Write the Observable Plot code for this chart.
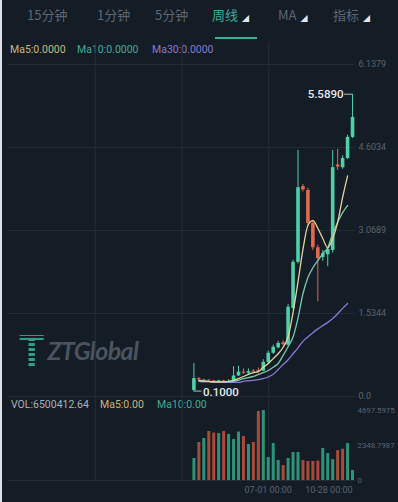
<!DOCTYPE html>
<html><head><meta charset="utf-8">
<script src="https://cdn.jsdelivr.net/npm/d3@7"></script>
<script src="https://cdn.jsdelivr.net/npm/@observablehq/plot@0.6"></script>
<style>
html,body{margin:0;padding:0;background:#141c26;}
#wrap{position:relative;width:398px;height:502px;overflow:hidden;background:#141c26;font-family:Roboto,"Noto Sans CJK SC",sans-serif;}
#wrap::before{content:"";position:absolute;left:0;top:0;width:2px;height:502px;background:#dfe2e5;z-index:9;}
.layer{position:absolute;left:0;}
.tab{position:absolute;top:6px;font-size:13px;line-height:18px;color:#5c6772;font-family:"Noto Sans CJK SC",Roboto,sans-serif;white-space:nowrap;}
.tab.on{color:#3bae96;}
.tri{font-size:7px;color:#e4e7ea;margin-left:4px;vertical-align:-1px;}
.leg{position:absolute;font-size:10.5px;line-height:12px;white-space:nowrap;font-family:Roboto,sans-serif;}
#wm{position:absolute;left:19px;top:333px;height:34px;white-space:nowrap;}
#wm .logo{display:inline-block;font-family:Lato,sans-serif;font-weight:900;font-size:42px;line-height:34px;height:34px;color:transparent;
 background:repeating-linear-gradient(to bottom,#2f9e86 0px,#2f9e86 3px,transparent 3px,transparent 5px);-webkit-background-clip:text;background-clip:text;vertical-align:top;}
#wm .name{display:inline-block;font-family:Lato,sans-serif;font-weight:700;font-style:italic;font-size:25px;line-height:34px;color:#4a535e;letter-spacing:-0.6px;vertical-align:top;margin-left:3px;}
</style></head>
<body><div id="wrap"></div>
<script>
// ---- data ----
const tabLabels = ["15分钟","1分钟","5分钟","周线","MA","指标"];
const priceTicks = [0, 1.5344, 3.0689, 4.6034, 6.1379];
const priceLabels = ["0.0","1.5344","3.0689","4.6034","6.1379"];
const volTicks = [0, 2348.7987, 4697.5975];
const volLabels = ["0","2348.7987","4697.5975"];
const dateTickIdx = [15, 32];
const dateTickLabels = ["07-01 00:00","10-28 00:00"];

const open  = [0.11,0.33,0.29,0.30,0.29,0.27,0.29,0.27,0.28,0.38,0.45,0.43,0.47,0.48,0.47,0.63,0.80,0.90,0.99,0.95,1.63,2.48,3.88,3.81,3.20,2.75,2.57,2.62,2.70,4.28,4.23,4.40,4.79];
const high  = [0.61,0.35,0.32,0.31,0.30,0.30,0.30,0.31,0.55,0.56,0.51,0.51,0.50,0.53,0.68,0.84,0.95,1.02,1.03,1.70,2.52,4.55,3.92,3.85,3.25,2.80,2.70,2.76,4.55,4.57,4.45,4.83,5.589];
const low   = [0.10,0.29,0.27,0.27,0.25,0.26,0.25,0.26,0.27,0.37,0.41,0.41,0.43,0.44,0.46,0.60,0.78,0.88,0.93,0.93,1.60,2.45,3.78,3.15,2.70,1.75,2.50,2.40,2.65,4.18,4.20,4.38,4.77];
const close = [0.33,0.31,0.30,0.29,0.27,0.29,0.27,0.28,0.38,0.45,0.43,0.46,0.45,0.46,0.63,0.80,0.91,0.98,0.96,1.65,2.48,3.86,3.82,3.20,2.75,2.55,2.64,2.72,4.23,4.24,4.40,4.79,5.16];

const ma5  = [null,0.30,0.29,0.28,0.27,0.27,0.27,0.28,0.30,0.33,0.37,0.41,0.44,0.46,0.54,0.61,0.70,0.79,0.91,1.10,1.55,2.12,2.72,3.16,3.25,3.11,2.92,2.75,2.92,3.22,3.68,4.08,null];
const ma10 = [null,0.29,0.28,0.28,0.27,0.27,0.27,0.27,0.28,0.30,0.33,0.35,0.37,0.41,0.44,0.48,0.54,0.61,0.76,0.92,1.10,1.45,1.90,2.20,2.38,2.51,2.64,2.75,3.01,3.22,3.40,3.53,null];
const ma30 = [null,0.28,0.27,0.27,0.26,0.26,0.26,0.26,0.26,0.26,0.28,0.29,0.30,0.31,0.33,0.36,0.41,0.50,0.59,0.68,0.79,0.90,1.02,1.10,1.18,1.25,1.31,1.37,1.44,1.53,1.63,1.72,null];

const volume = [1476,2550,2818,3288,3180,3150,3288,3087,2750,3250,2950,2415,2550,4630,4697.5975,1540,2480,1340,1000,1476,1880,1880,1340,1275,1275,1300,2150,1810,1400,2010,2100,2480,670];
const volUp  = [1,0,1,0,0,1,0,1,1,1,0,1,0,0,1,1,1,1,0,1,1,1,0,0,0,0,1,1,1,0,0,1,1];

const legendTop = [["Ma5:0.0000","#c9b77b"],["Ma10:0.0000","#3fae95"],["Ma30:0.0000","#8b79cf"]];
const legendVol = [["VOL:6500412.64","#a9b1b9"],["Ma5:0.00","#c9b77b"],["Ma10:0.00","#3fae95"]];
const maxText = "5.5890", minText = "0.1000";

// ---- layout / style ----
const UP = "#50cfa8", DOWN = "#e0694f", VUP = "#2e9479", VDOWN = "#a94b3a";
const GRID = "#232d38", AXIS = "#5a6470";
const MA5C = "#e3d49e", MA10C = "#79c8ae", MA30C = "#8c78d8";
const W = 398, ML = 8, MR = 43;
const xDomain = [-37.4, 32.6];
const wrap = document.getElementById("wrap");

// tabs
const tabLeft = [27, 97, 155, 212, 278, 333];
tabLabels.forEach((t, k) => {
  const s = document.createElement("div");
  s.className = "tab" + (k === 3 ? " on" : "");
  s.style.left = tabLeft[k] + "px";
  s.innerHTML = t + (k >= 3 ? '<span class="tri">◢</span>' : "");
  wrap.appendChild(s);
});
const ul = document.createElement("div");
Object.assign(ul.style, {position:"absolute", left:"215px", top:"37px", width:"42px", height:"2px", background:"#3bae96"});
wrap.appendChild(ul);

// legends
const legLeft = [10, 77, 152], volLeft = [11, 100, 157];
legendTop.forEach(([t, c], k) => {
  const s = document.createElement("div"); s.className = "leg";
  Object.assign(s.style, {left: legLeft[k] + "px", top: "44px", color: c}); s.textContent = t; wrap.appendChild(s);
});
legendVol.forEach(([t, c], k) => {
  const s = document.createElement("div"); s.className = "leg";
  Object.assign(s.style, {left: volLeft[k] + "px", top: "399px", color: c}); s.textContent = t; wrap.appendChild(s);
});

// watermark
const wm = document.createElement("div"); wm.id = "wm";
wm.innerHTML = '<span class="logo">T</span><span class="name">ZTGlobal</span>';
wrap.appendChild(wm);

const idx = d3.range(open.length);
const candles = idx.map(i => ({i, o: open[i], h: high[i], l: low[i], c: close[i], up: close[i] >= open[i]}));
const maRows = (arr) => idx.map(i => ({i, v: arr[i]}));
const style = {background: "transparent", overflow: "visible", color: AXIS, fontFamily: "Roboto, sans-serif", fontSize: "9px"};
function place(svg, top) { svg.classList.add("layer"); svg.style.top = top + "px"; wrap.appendChild(svg); }

// vertical grid layer
const gridX = d3.range(1, 4).map(k => xDomain[0] + k * (xDomain[1] - xDomain[0]) / 4);
place(Plot.plot({
  width: W, height: 445, marginTop: 2, marginBottom: 5, marginLeft: ML, marginRight: MR,
  x: {domain: xDomain, axis: null}, y: {domain: [0, 1], axis: null}, style,
  marks: [Plot.ruleX(gridX, {stroke: GRID, strokeWidth: 1})]
}), 40);

// price layer
const iMax = d3.maxIndex(high), iMin = d3.minIndex(low);
place(Plot.plot({
  width: W, height: 360, marginTop: 24, marginBottom: 4, marginLeft: ML, marginRight: MR,
  x: {domain: xDomain, axis: null},
  y: {domain: [0, priceTicks[priceTicks.length - 1]], axis: null},
  style,
  marks: [
    Plot.ruleY(priceTicks, {stroke: GRID, strokeWidth: 1}),
    Plot.text(priceTicks.map((v, j) => ({v, t: priceLabels[j]})), {y: "v", text: "t", frameAnchor: "right", textAnchor: "start", dx: 3, fontSize: 9, fill: AXIS}),
    Plot.line(maRows(ma30), {x: "i", y: "v", stroke: MA30C, strokeWidth: 1.3, curve: "monotone-x"}),
    Plot.ruleX(candles, {x: "i", y1: "l", y2: "h", stroke: d => d.up ? UP : DOWN, strokeWidth: 1}),
    Plot.ruleX(candles, {x: "i", y1: "o", y2: "c", stroke: d => d.up ? UP : DOWN, strokeWidth: 3.6}),
    Plot.line(maRows(ma10), {x: "i", y: "v", stroke: MA10C, strokeWidth: 1.3, curve: "monotone-x"}),
    Plot.line(maRows(ma5), {x: "i", y: "v", stroke: MA5C, strokeWidth: 1.3, curve: "monotone-x"}),
    Plot.ruleY([{y: high[iMax], x1: iMax - 1.6, x2: iMax}], {y: "y", x1: "x1", x2: "x2", stroke: "#b9c0c6", strokeWidth: 1}),
    Plot.text([{x: iMax, y: high[iMax]}], {x: "x", y: "y", text: () => maxText, dx: -9, textAnchor: "end", fontSize: 11.5, fontWeight: 500, fill: "#e6eaee"}),
    Plot.ruleY([{y: low[iMin], x1: iMin, x2: iMin + 1.6}], {y: "y", x1: "x1", x2: "x2", stroke: "#b9c0c6", strokeWidth: 1}),
    Plot.text([{x: iMin, y: low[iMin]}], {x: "x", y: "y", text: () => minText, dx: 9, dy: 1, textAnchor: "start", fontSize: 11.5, fontWeight: 500, fill: "#e6eaee"})
  ]
}), 40);

// volume layer
const vols = idx.map(i => ({i, v: volume[i], up: volUp[i] === 1}));
const dates = dateTickIdx.map((i, k) => ({i, t: dateTickLabels[k]}));
place(Plot.plot({
  width: W, height: 104, marginTop: 12, marginBottom: 22, marginLeft: ML, marginRight: MR,
  x: {domain: xDomain, axis: null},
  y: {domain: [0, volTicks[volTicks.length - 1]], axis: null},
  style,
  marks: [
    Plot.ruleY([0], {stroke: GRID, strokeWidth: 1}),
    Plot.text(volTicks.map((v, j) => ({v, t: volLabels[j]})), {y: "v", text: "t", frameAnchor: "right", textAnchor: "start", dx: 2, fontSize: 7.8, fill: AXIS}),
    Plot.ruleX(vols, {x: "i", y1: 0, y2: "v", stroke: d => d.up ? VUP : VDOWN, strokeWidth: 3}),
    Plot.text(dates.slice(0, -1), {x: "i", text: "t", frameAnchor: "bottom", dy: 12, textAnchor: "middle", fontSize: 9, fill: AXIS}),
    Plot.text(dates.slice(-1), {x: "i", text: "t", frameAnchor: "bottom", dy: 12, textAnchor: "end", fontSize: 9, fill: AXIS})
  ]
}), 398);
</script></body></html>
